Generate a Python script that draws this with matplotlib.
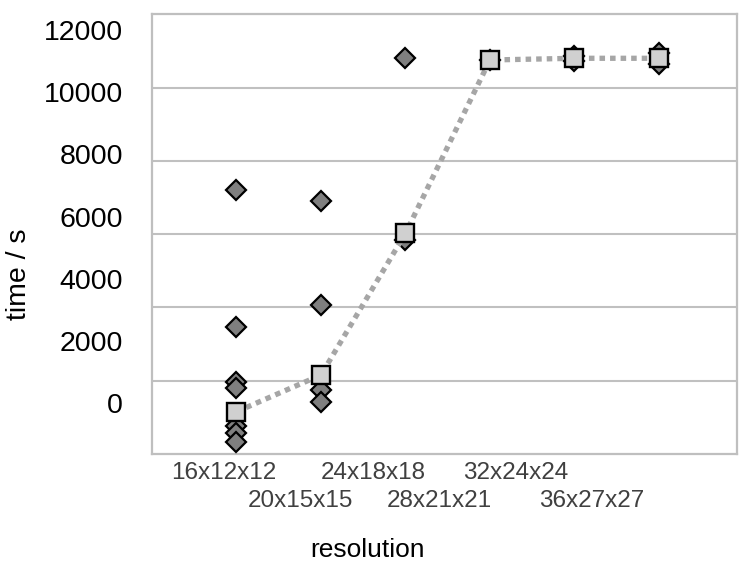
import matplotlib
matplotlib.use("Agg")
import matplotlib.pyplot as plt

plt.rcParams['font.family'] = ['Liberation Sans', 'DejaVu Sans']

# ---- data ----
categories = ["16x12x12", "20x15x15", "24x18x18", "28x21x21", "32x24x24", "36x27x27"]
# individual runs (diamonds), per category
runs = [
    [6858, 2463, 694, 482, -730, -955, -1244],
    [6504, 3160, 428, 51],
    [11092, 5250],
    [11037],
    [11180, 11020],
    [11250, 10920],
]
# mean / representative time (squares + dotted line)
summary = [-270, 910, 5465, 11037, 11092, 11092]
y_ticks = [0, 2000, 4000, 6000, 8000, 10000, 12000]

# ---- layout constants ----
cat_pos = list(range(1, len(categories) + 1))
row1_idx = [0, 2, 4]
row2_idx = [1, 3, 5]
label_shift = [-0.148, -0.241, -0.382, -0.602, -0.695, -0.796]

fig = plt.figure(figsize=(7.47, 5.63), dpi=100)
ax = fig.add_axes([0.2035, 0.1936, 0.9866 - 0.2035, 0.9746 - 0.1936])

# gridlines (six equal bands)
for k in range(1, 6):
    ax.plot([0, 1], [k / 6, k / 6], transform=ax.transAxes, color='#c0c0c0',
            lw=1.5, zorder=1, solid_capstyle='butt')

# diamonds
for p, vals in zip(cat_pos, runs):
    ax.plot([p] * len(vals), vals, linestyle='none', marker='D', markersize=10.5,
            markerfacecolor='#7f7f7f', markeredgecolor='black', markeredgewidth=1.6,
            zorder=3)

# dotted line and squares
ax.plot(cat_pos, summary, color='#a6a6a6', lw=3.8, linestyle=(0, (1.05, 0.95)),
        dash_capstyle='butt', zorder=4)
ax.plot(cat_pos, summary, linestyle='none', marker='s', markersize=13,
        markerfacecolor='#d0d0d0', markeredgecolor='black', markeredgewidth=1.7,
        zorder=5)

ax.set_xlim(0, 6.924)
ax.set_ylim(-1630, 12506)

for s in ax.spines.values():
    s.set_color('#bfbfbf')
    s.set_linewidth(1.6)

ax.set_yticks(y_ticks)
ax.set_yticklabels([str(v) for v in y_ticks])
ax.tick_params(axis='y', length=0, pad=21, labelsize=20.5, labelcolor='black')

ax.set_xticks([cat_pos[i] + label_shift[i] for i in row1_idx])
ax.set_xticklabels([categories[i] for i in row1_idx])
ax.set_xticks([cat_pos[i] + label_shift[i] for i in row2_idx], minor=True)
ax.set_xticklabels([categories[i] for i in row2_idx], minor=True)
ax.tick_params(axis='x', which='major', length=0, pad=5.5, labelsize=17.5, labelcolor='#404040')
ax.tick_params(axis='x', which='minor', length=0, pad=26, labelsize=17.5, labelcolor='#404040')

ax.set_xlabel('resolution', fontsize=19)
ax.xaxis.set_label_coords(0.368, -0.19)
ax.set_ylabel('time / s', fontsize=20.5)
ax.yaxis.set_label_coords(-0.205, 0.409)

fig.savefig('out.png', dpi=100)
